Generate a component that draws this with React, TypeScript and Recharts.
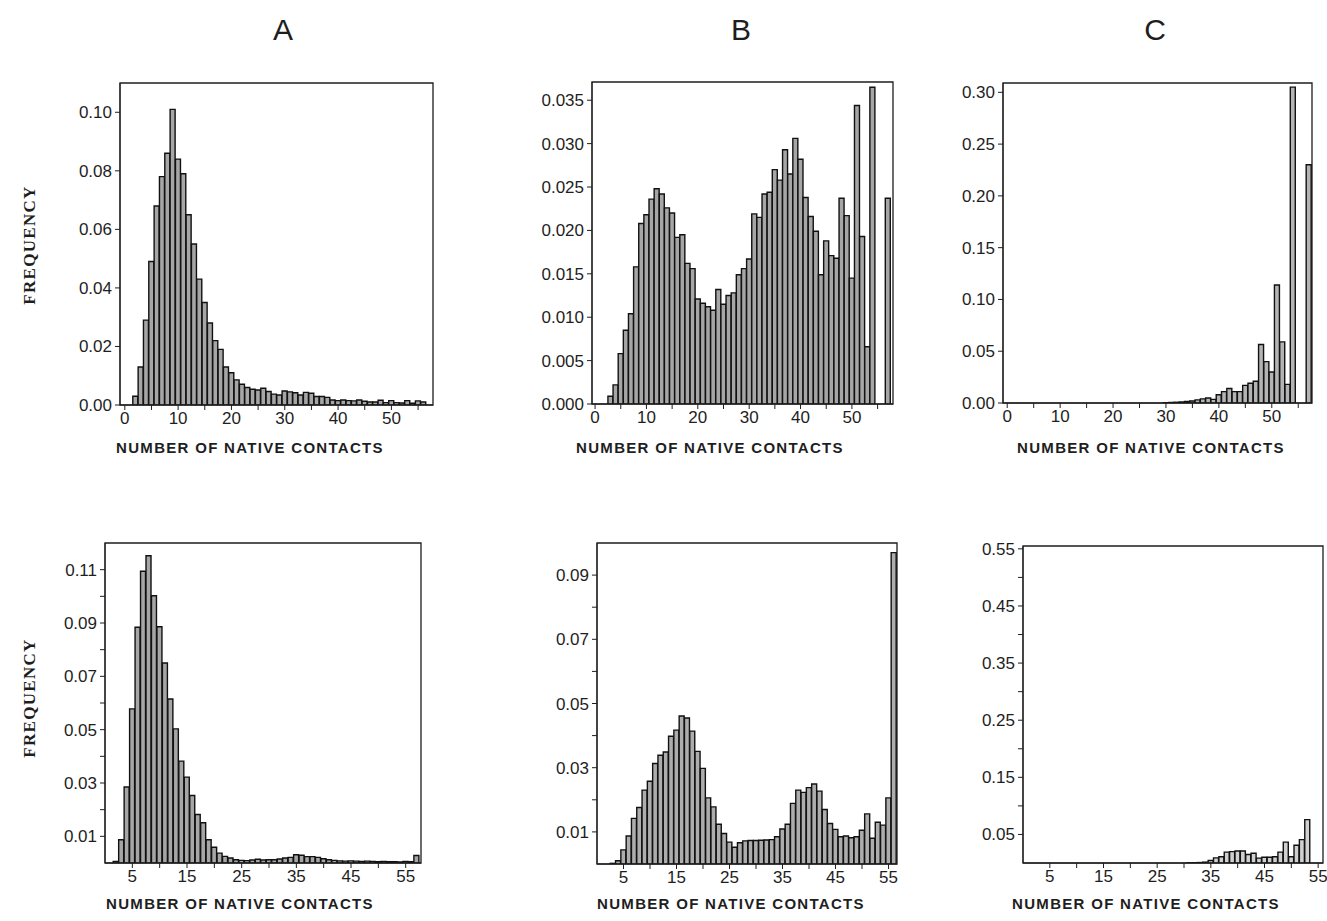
import React from 'react';
import { BarChart, Bar, XAxis, YAxis, ReferenceArea } from 'recharts';

// ---------- DATA ----------
// bin = number of native contacts, value = frequency
const aTopStart = 2;
const aTopFreq = [
  0.003, 0.013, 0.029, 0.049, 0.068, 0.078, 0.086, 0.101, 0.084, 0.079,
  0.065, 0.055, 0.043, 0.035, 0.028, 0.022, 0.019, 0.013, 0.011, 0.0086,
  0.0071, 0.006, 0.0054, 0.0051, 0.0057, 0.0046, 0.0037, 0.0034, 0.0048, 0.0045,
  0.0042, 0.0034, 0.0043, 0.004, 0.0029, 0.0029, 0.0026, 0.0017, 0.0015, 0.0017,
  0.0015, 0.0014, 0.0017, 0.0013, 0.001, 0.001, 0.0016, 0.0008, 0.0015, 0.0008,
  0.0007, 0.0015, 0.0006, 0.0014, 0.001,
];

const bTopStart = 3;
const bTopFreq = [
  0.0009, 0.0022, 0.0058, 0.0085, 0.0104, 0.0158, 0.0208, 0.0218, 0.0236, 0.0248,
  0.0242, 0.0226, 0.022, 0.0192, 0.0195, 0.0162, 0.0156, 0.0121, 0.0116, 0.0112,
  0.0108, 0.0132, 0.0115, 0.0125, 0.0128, 0.0149, 0.0156, 0.0167, 0.0219, 0.0215,
  0.0242, 0.0244, 0.027, 0.0258, 0.0293, 0.0265, 0.0306, 0.0282, 0.0238, 0.0216,
  0.0199, 0.0149, 0.0188, 0.0171, 0.0168, 0.0237, 0.0217, 0.0145, 0.0344, 0.0193,
  0.0066, 0.0365, 0, 0, 0.0237,
];

const cTopStart = 30;
const cTopFreq = [
  0.0003, 0.0005, 0.0007, 0.001, 0.0015, 0.002, 0.003, 0.004, 0.0048, 0.0035,
  0.008, 0.011, 0.014, 0.011, 0.011, 0.017, 0.019, 0.021, 0.0565, 0.04,
  0.03, 0.114, 0.059, 0.018, 0.305, 0, 0, 0.23,
];

const aBotStart = 2;
const aBotFreq = [
  0.0006, 0.0087, 0.0285, 0.0578, 0.0884, 0.1094, 0.1152, 0.1002, 0.0886, 0.075,
  0.0615, 0.0503, 0.0382, 0.0322, 0.0253, 0.0182, 0.0151, 0.0087, 0.0059, 0.0037,
  0.0025, 0.0019, 0.0012, 0.001, 0.0009, 0.0011, 0.0014, 0.0011, 0.0012, 0.0012,
  0.0015, 0.0019, 0.0021, 0.0031, 0.0029, 0.0024, 0.0024, 0.0021, 0.0016, 0.0012,
  0.001, 0.0008, 0.0007, 0.0008, 0.0007, 0.0006, 0.0007, 0.0006, 0.0005, 0.0006,
  0.0005, 0.0005, 0.0004, 0.0006, 0.0005, 0.0028,
];

const bBotStart = 3;
const bBotFreq = [
  0.0002, 0.001, 0.0044, 0.0087, 0.0142, 0.0176, 0.023, 0.0258, 0.0313, 0.0339,
  0.0349, 0.0398, 0.0417, 0.0461, 0.0455, 0.0414, 0.0351, 0.0298, 0.0206, 0.0178,
  0.0124, 0.0095, 0.0068, 0.0052, 0.0066, 0.0072, 0.0073, 0.0073, 0.0074, 0.0075,
  0.0076, 0.0085, 0.0109, 0.0124, 0.0189, 0.023, 0.0223, 0.0238, 0.0249, 0.0227,
  0.017, 0.0126, 0.0108, 0.0085, 0.0087, 0.0082, 0.0085, 0.0105, 0.0156, 0.008,
  0.013, 0.0121, 0.0206, 0.097,
];

const cBotStart = 31;
const cBotFreq = [
  0.0003, 0.0005, 0.0008, 0.0015, 0.0045, 0.009, 0.011, 0.019, 0.02, 0.021,
  0.021, 0.015, 0.017, 0.0085, 0.01, 0.01, 0.011, 0.019, 0.0365, 0.011,
  0.031, 0.041, 0.076,
];

// tick values
const xTicksTop = [0, 5, 10, 15, 20, 25, 30, 35, 40, 45, 50, 55];
const xLabelsTop = [0, 10, 20, 30, 40, 50];
const xTicksBot = [5, 10, 15, 20, 25, 30, 35, 40, 45, 50, 55];
const xLabelsBot = [5, 15, 25, 35, 45, 55];

const yTicksATop = [0, 0.02, 0.04, 0.06, 0.08, 0.1];
const yTicksBTop = [0, 0.005, 0.01, 0.015, 0.02, 0.025, 0.03, 0.035];
const yTicksCTop = [0, 0.05, 0.1, 0.15, 0.2, 0.25, 0.3];
const yTicksABot = [0.01, 0.02, 0.03, 0.04, 0.05, 0.06, 0.07, 0.08, 0.09, 0.1, 0.11];
const yLabelsABot = [0.01, 0.03, 0.05, 0.07, 0.09, 0.11];
const yTicksBBot = [0.01, 0.02, 0.03, 0.04, 0.05, 0.06, 0.07, 0.08, 0.09];
const yLabelsBBot = [0.01, 0.03, 0.05, 0.07, 0.09];
const yTicksCBot = [0.05, 0.1, 0.15, 0.2, 0.25, 0.3, 0.35, 0.4, 0.45, 0.5, 0.55];
const yLabelsCBot = [0.05, 0.15, 0.25, 0.35, 0.45, 0.55];

const columnTitles = ['A', 'B', 'C'];
const yTitle = 'FREQUENCY';
const xTitle = 'NUMBER OF NATIVE CONTACTS';

// ---------- HELPERS ----------
const toRows = (start: number, vals: number[]) => vals.map((f, i) => ({ n: start + i, f }));
const has = (arr: number[], v: number) => arr.some((a) => Math.abs(a - v) < 1e-9);

const SANS = '"Liberation Sans", Arial, Helvetica, sans-serif';
const SERIF = '"Liberation Serif", "Times New Roman", serif';
const INK = '#1e1e1e';

type Box = { x: number; y: number; w: number; h: number };

function Panel(props: {
  rows: { n: number; f: number }[];
  box: Box;
  xDomain: [number, number];
  yDomain: [number, number];
  xTicks: number[];
  xLabels: number[];
  yTicks: number[];
  yLabels: number[];
  yDigits: number;
  fill: string;
}) {
  const { rows, box, xDomain, yDomain, xTicks, xLabels, yTicks, yLabels, yDigits, fill } = props;
  const ML = 64, MT = 10, MR = 10, XH = 34;
  const W = box.w + ML + MR;
  const H = box.h + MT + XH;
  return (
    <div style={{ position: 'absolute', left: box.x - ML, top: box.y - MT, width: W, height: H }}>
      <BarChart
        width={W}
        height={H}
        data={rows}
        margin={{ top: MT, right: MR, bottom: 0, left: 0 }}
        barCategoryGap={0}
        barGap={0}
      >
        <XAxis
          dataKey="n"
          type="number"
          domain={xDomain}
          allowDataOverflow
          ticks={xTicks}
          interval={0}
          height={XH}
          tickSize={5}
          tickMargin={2}
          stroke={INK}
          tick={{ fontSize: 17, fill: INK, fontFamily: SANS }}
          tickFormatter={(v: number) => (has(xLabels, v) ? String(v) : '')}
        />
        <YAxis
          type="number"
          domain={yDomain}
          allowDataOverflow
          ticks={yTicks}
          interval={0}
          width={ML}
          tickSize={5}
          tickMargin={3}
          stroke={INK}
          tick={{ fontSize: 17, fill: INK, fontFamily: SANS }}
          tickFormatter={(v: number) => (has(yLabels, v) ? v.toFixed(yDigits) : '')}
        />
        <Bar dataKey="f" fill={fill} stroke="#111" strokeWidth={1.4} isAnimationActive={false} />
        <ReferenceArea
          x1={xDomain[0]}
          x2={xDomain[1]}
          y1={yDomain[0]}
          y2={yDomain[1]}
          fill="none"
          fillOpacity={0}
          stroke={INK}
          strokeWidth={1.3}
          ifOverflow="visible"
        />
      </BarChart>
    </div>
  );
}

const textBase: React.CSSProperties = { position: 'absolute', whiteSpace: 'nowrap', color: INK };

function XTitle({ cx, cy }: { cx: number; cy: number }) {
  return (
    <div
      style={{
        ...textBase,
        left: cx,
        top: cy,
        transform: 'translate(-50%, -50%)',
        fontFamily: SANS,
        fontWeight: 700,
        fontSize: 15,
        letterSpacing: 1.3,
      }}
    >
      {xTitle}
    </div>
  );
}

function YTitle({ cx, cy }: { cx: number; cy: number }) {
  return (
    <div
      style={{
        ...textBase,
        left: cx,
        top: cy,
        transform: 'translate(-50%, -50%) rotate(-90deg)',
        fontFamily: SERIF,
        fontWeight: 700,
        fontSize: 17,
        letterSpacing: 1.3,
      }}
    >
      {yTitle}
    </div>
  );
}

export default function App() {
  const colX = [283, 741, 1155];
  return (
    <div style={{ position: 'absolute', left: 0, top: 0, width: 1327, height: 921, background: '#fff', overflow: 'hidden' }}>
      {columnTitles.map((t, i) => (
        <div
          key={t}
          style={{
            ...textBase,
            left: colX[i],
            top: 30,
            transform: 'translate(-50%, -50%)',
            fontFamily: SANS,
            fontSize: 30,
          }}
        >
          {t}
        </div>
      ))}

      <YTitle cx={30} cy={245} />
      <YTitle cx={30} cy={698} />

      <Panel
        rows={toRows(aTopStart, aTopFreq)}
        box={{ x: 120, y: 83, w: 313, h: 322 }}
        xDomain={[-0.9, 57.8]}
        yDomain={[0, 0.11]}
        xTicks={xTicksTop}
        xLabels={xLabelsTop}
        yTicks={yTicksATop}
        yLabels={yTicksATop}
        yDigits={2}
        fill="#a6a6a6"
      />
      <Panel
        rows={toRows(bTopStart, bTopFreq)}
        box={{ x: 592, y: 82, w: 301, h: 322 }}
        xDomain={[-0.6, 58]}
        yDomain={[0, 0.0371]}
        xTicks={xTicksTop}
        xLabels={xLabelsTop}
        yTicks={yTicksBTop}
        yLabels={yTicksBTop}
        yDigits={3}
        fill="#a6a6a6"
      />
      <Panel
        rows={toRows(cTopStart, cTopFreq)}
        box={{ x: 1003, y: 83, w: 309, h: 320 }}
        xDomain={[-0.8, 57.6]}
        yDomain={[0, 0.309]}
        xTicks={xTicksTop}
        xLabels={xLabelsTop}
        yTicks={yTicksCTop}
        yLabels={yTicksCTop}
        yDigits={2}
        fill="#b4b4b4"
      />
      <Panel
        rows={toRows(aBotStart, aBotFreq)}
        box={{ x: 105, y: 543, w: 316, h: 320 }}
        xDomain={[0, 57.8]}
        yDomain={[0, 0.12]}
        xTicks={xTicksBot}
        xLabels={xLabelsBot}
        yTicks={yTicksABot}
        yLabels={yLabelsABot}
        yDigits={2}
        fill="#a6a6a6"
      />
      <Panel
        rows={toRows(bBotStart, bBotFreq)}
        box={{ x: 597, y: 543, w: 300, h: 321 }}
        xDomain={[0, 56.6]}
        yDomain={[0, 0.1]}
        xTicks={xTicksBot}
        xLabels={xLabelsBot}
        yTicks={yTicksBBot}
        yLabels={yLabelsBBot}
        yDigits={2}
        fill="#adadad"
      />
      <Panel
        rows={toRows(cBotStart, cBotFreq)}
        box={{ x: 1023, y: 546, w: 300, h: 317 }}
        xDomain={[0, 55.9]}
        yDomain={[0, 0.555]}
        xTicks={xTicksBot}
        xLabels={xLabelsBot}
        yTicks={yTicksCBot}
        yLabels={yLabelsCBot}
        yDigits={2}
        fill="#d0d0d0"
      />

      <XTitle cx={250} cy={447} />
      <XTitle cx={710} cy={447} />
      <XTitle cx={1151} cy={447} />
      <XTitle cx={240} cy={903} />
      <XTitle cx={731} cy={903} />
      <XTitle cx={1146} cy={903} />
    </div>
  );
}
